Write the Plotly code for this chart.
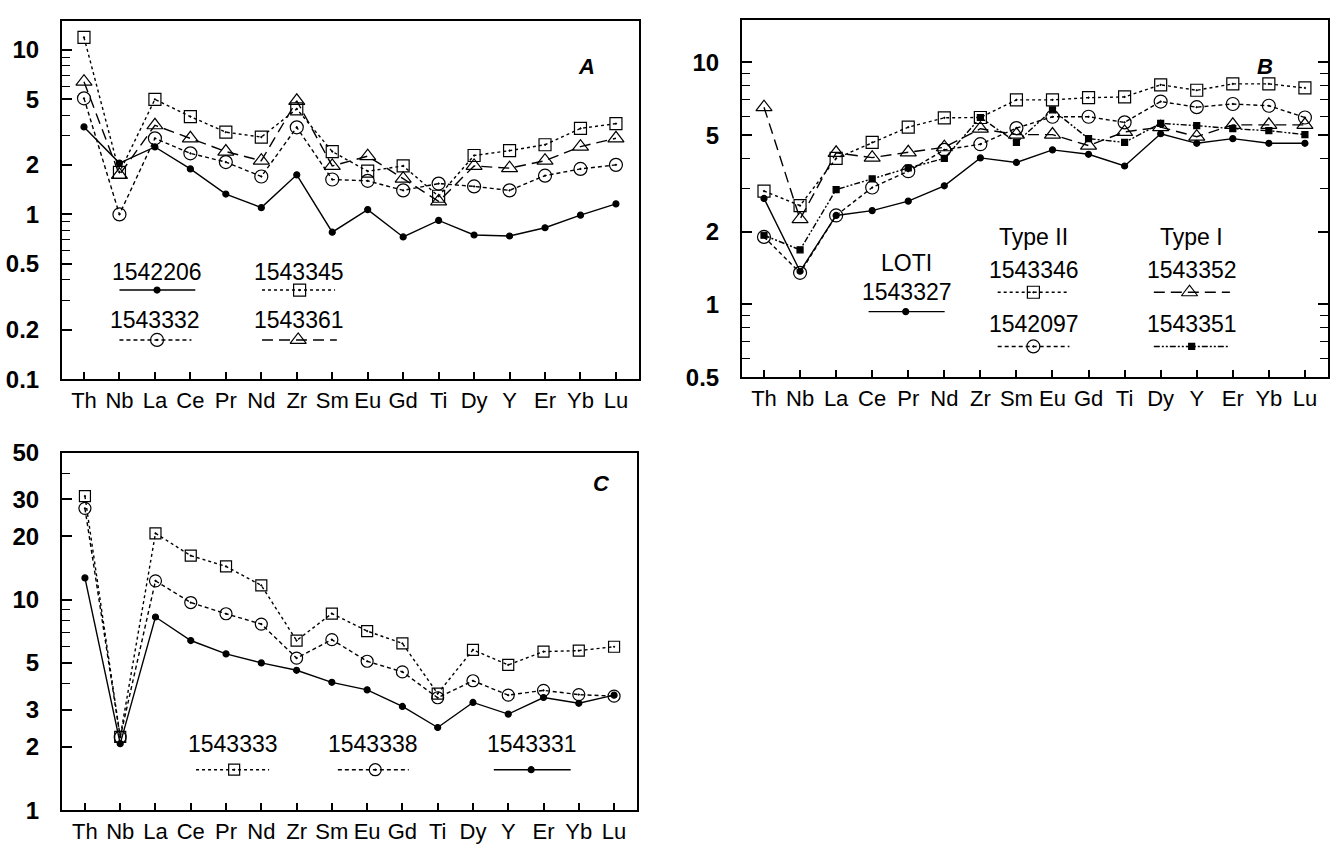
import plotly.graph_objects as go
import math

# ---------------- data ----------------
elements = ["Th", "Nb", "La", "Ce", "Pr", "Nd", "Zr", "Sm", "Eu", "Gd", "Ti", "Dy", "Y", "Er", "Yb", "Lu"]

# Panel A
a_1542206 = [3.4, 2.05, 2.57, 1.89, 1.33, 1.1, 1.74, 0.78, 1.07, 0.73, 0.92, 0.75, 0.74, 0.83, 0.99, 1.16]
a_1543345 = [11.9, 1.8, 5.0, 3.93, 3.16, 2.95, 4.37, 2.41, 1.83, 1.97, 1.29, 2.28, 2.44, 2.65, 3.33, 3.56]
a_1543332 = [5.07, 1.0, 2.9, 2.35, 2.08, 1.7, 3.38, 1.63, 1.6, 1.4, 1.54, 1.48, 1.4, 1.72, 1.89, 2.0]
a_1543361 = [6.4, 1.74, 3.48, 2.9, 2.41, 2.12, 4.9, 1.97, 2.26, 1.65, 1.2, 1.97, 1.91, 2.12, 2.58, 2.9]

# Panel B
b_1543327 = [2.74, 1.37, 2.33, 2.44, 2.67, 3.09, 4.03, 3.86, 4.35, 4.17, 3.73, 5.07, 4.63, 4.84, 4.63, 4.63]
b_1543346 = [2.94, 2.56, 4.01, 4.67, 5.4, 5.9, 5.92, 7.0, 7.0, 7.15, 7.2, 8.08, 7.67, 8.15, 8.15, 7.84]
b_1542097 = [1.9, 1.35, 2.33, 3.04, 3.55, 4.35, 4.59, 5.35, 5.96, 5.96, 5.65, 6.89, 6.53, 6.73, 6.62, 5.92]
b_1543352 = [6.53, 2.25, 4.23, 4.04, 4.25, 4.46, 5.32, 5.03, 5.03, 4.53, 5.16, 5.4, 4.93, 5.52, 5.52, 5.52]
b_1543351 = [1.93, 1.68, 2.98, 3.3, 3.66, 4.01, 5.92, 4.67, 6.37, 4.84, 4.67, 5.6, 5.48, 5.32, 5.22, 5.03]

# Panel C
c_1543333 = [31.1, 2.23, 20.7, 16.2, 14.4, 11.7, 6.4, 8.6, 7.1, 6.2, 3.58, 5.78, 4.9, 5.67, 5.73, 5.98]
c_1543338 = [27.2, 2.22, 12.3, 9.7, 8.58, 7.66, 5.28, 6.46, 5.1, 4.54, 3.42, 4.12, 3.52, 3.71, 3.54, 3.48]
c_1543331 = [12.7, 2.07, 8.28, 6.4, 5.53, 5.01, 4.62, 4.05, 3.73, 3.11, 2.47, 3.25, 2.86, 3.43, 3.22, 3.52]

# y tick labels
a_ticks = [0.1, 0.2, 0.5, 1, 2, 5, 10]
b_ticks = [0.5, 1, 2, 5, 10]
c_ticks = [1, 2, 3, 5, 10, 20, 30, 50]

# ---------------- styles ----------------
W, H = 1333, 857
TXT = "Liberation Sans, Arial, sans-serif"

STY = {
    "solid": dict(dash="solid", symbol="circle", size=6),
    "dotsq": dict(dash="dot", symbol="square-open-dot", size=12),
    "dashci": dict(dash="4px,3px", symbol="circle-open-dot", size=13),
    "ldashtri": dict(dash="11px,6px", symbol="triangle-up-open", size=14),
    "dashdot": dict(dash="6px,2px,2px,2px,2px,2px", symbol="square", size=6),
}


def dom_x(l, r):
    return [l / W, r / W]


def dom_y(t, b):
    return [1 - b / H, 1 - t / H]


def minor_vals(lo, hi):
    out = []
    d = 10 ** math.floor(math.log10(lo))
    while d < hi * 10:
        for k in range(1, 10):
            v = k * d
            if lo - 1e-9 <= v <= hi + 1e-9:
                out.append(round(v, 6))
        d *= 10
    return out


fig = go.Figure()


def add_series(vals, style, ax, name, msize=None):
    s = STY[style]
    fig.add_trace(go.Scatter(
        x=list(range(len(elements))), y=vals, mode="lines+markers", name=name,
        xaxis=ax[0], yaxis=ax[1], showlegend=False, cliponaxis=False,
        line=dict(color="black", width=1.4, dash=s["dash"]),
        marker=dict(symbol=s["symbol"], size=msize or s["size"], color="black",
                    line=dict(color="black", width=1.2)),
    ))


def add_key(label, style, ax, xl, xr, xm, yline, ytext, header=None, yhead=None, msize=None):
    s = STY[style]
    fig.add_trace(go.Scatter(
        x=[xl, xr], y=[10 ** yline] * 2, mode="lines", xaxis=ax[0], yaxis=ax[1],
        showlegend=False, hoverinfo="skip",
        line=dict(color="black", width=1.4, dash=s["dash"])))
    fig.add_trace(go.Scatter(
        x=[xm], y=[10 ** yline], mode="markers", xaxis=ax[0], yaxis=ax[1],
        showlegend=False, hoverinfo="skip",
        marker=dict(symbol=s["symbol"], size=msize or s["size"], color="black",
                    line=dict(color="black", width=1.2))))
    fig.add_annotation(x=(xl + xr) / 2, y=ytext, xref=ax[0], yref=ax[1], text=label,
                       showarrow=False, font=dict(family=TXT, size=23, color="black"))
    if header:
        fig.add_annotation(x=(xl + xr) / 2, y=yhead, xref=ax[0], yref=ax[1], text=header,
                           showarrow=False, font=dict(family=TXT, size=23, color="black"))


# Panel A
axA = ("x", "y")
add_series(a_1542206, "solid", axA, "1542206")
add_series(a_1543345, "dotsq", axA, "1543345")
add_series(a_1543332, "dashci", axA, "1543332")
add_series(a_1543361, "ldashtri", axA, "1543361")
add_key("1542206", "solid", axA, 1.0, 3.14, 2.06, -0.459, -0.347)
add_key("1543345", "dotsq", axA, 5.02, 7.08, 6.08, -0.459, -0.347)
add_key("1543332", "dashci", axA, 1.0, 3.03, 2.06, -0.762, -0.644)
add_key("1543361", "ldashtri", axA, 5.02, 7.13, 6.04, -0.762, -0.644)

# Panel B
axB = ("x2", "y2")
add_series(b_1543327, "solid", axB, "1543327")
add_series(b_1543346, "dotsq", axB, "1543346")
add_series(b_1542097, "dashci", axB, "1542097")
add_series(b_1543352, "ldashtri", axB, "1543352")
add_series(b_1543351, "dashdot", axB, "1543351")
add_key("1543327", "solid", axB, 2.9, 5.01, 3.93, -0.030, 0.052, "LOTI", 0.172)
add_key("1543346", "dotsq", axB, 6.48, 8.47, 7.47, 0.05, 0.143, "Type II", 0.279)
add_key("1542097", "dashci", axB, 6.48, 8.47, 7.47, -0.174, -0.082)
add_key("1543352", "ldashtri", axB, 10.81, 12.92, 11.8, 0.05, 0.143, "Type I", 0.279)
add_key("1543351", "dashdot", axB, 10.81, 12.92, 11.86, -0.174, -0.082)

# Panel C
axC = ("x3", "y3")
add_series(c_1543333, "dotsq", axC, "1543333", msize=11)
add_series(c_1543338, "dashci", axC, "1543338", msize=12)
add_series(c_1543331, "solid", axC, "1543331")
add_key("1543333", "dotsq", axC, 3.15, 5.22, 4.23, 0.192, 0.315, msize=11)
add_key("1543338", "dashci", axC, 7.17, 9.18, 8.23, 0.192, 0.315, msize=12)
add_key("1543331", "solid", axC, 11.59, 13.77, 12.65, 0.192, 0.315)


def xaxis(domain, rng):
    return dict(domain=domain, range=rng, tickmode="array", tickvals=list(range(len(elements))),
                ticktext=elements, ticks="inside", ticklen=7, tickwidth=1.5, tickcolor="black",
                showline=True, linecolor="black", linewidth=2, mirror=True, showgrid=False,
                zeroline=False, tickfont=dict(family=TXT, size=22, color="black"))


def yaxis(domain, rng, ticks, lo, hi, mirror=True):
    return dict(domain=domain, type="log", range=rng, tickmode="array", tickvals=ticks,
                ticktext=[("%g" % t) for t in ticks], ticks="inside", ticklen=10, tickwidth=1.5,
                tickcolor="black", showline=True, linecolor="black", linewidth=2, mirror=mirror,
                showgrid=False, zeroline=False, ticklabelstandoff=16,
                tickfont=dict(family=TXT, size=24, color="black", weight="bold"),
                minor=dict(tickmode="array", tickvals=[v for v in minor_vals(lo, hi) if v not in ticks],
                           ticks="inside", ticklen=8, tickwidth=1.3, tickcolor="black", showgrid=False))


xa = xaxis(dom_x(62, 639), [-0.62, 15.65]); xa["anchor"] = "y"
xb = xaxis(dom_x(742, 1328), [-0.61, 15.64]); xb["anchor"] = "y2"
xc = xaxis(dom_x(62, 637), [-0.65, 15.65]); xc["anchor"] = "y3"
ya = yaxis(dom_y(7, 377), [-1, 1.176], a_ticks, 0.1, 15); ya["anchor"] = "x"
yb = yaxis(dom_y(6, 375), [math.log10(0.5), 1.176], b_ticks, 0.5, 15, mirror="ticks"); yb["anchor"] = "x2"
yc = yaxis(dom_y(453, 822), [0, math.log10(50)], c_ticks, 1, 50); yc["anchor"] = "x3"

fig.update_layout(
    width=W, height=H, margin=dict(l=0, r=0, t=0, b=0),
    paper_bgcolor="white", plot_bgcolor="white", showlegend=False,
    xaxis=xa, yaxis=ya, xaxis2=xb, yaxis2=yb, xaxis3=xc, yaxis3=yc,
)

for txt, px, py in [("A", 586, 39), ("B", 1275, 39), ("C", 601, 485)]:
    fig.add_annotation(x=px / W, y=1 - py / H, xref="paper", yref="paper", text="<b><i>%s</i></b>" % txt,
                       showarrow=False, font=dict(family=TXT, size=22, color="black"))

fig.write_html("out.html", post_script="document.body.style.margin='0';document.body.style.overflow='hidden';")
